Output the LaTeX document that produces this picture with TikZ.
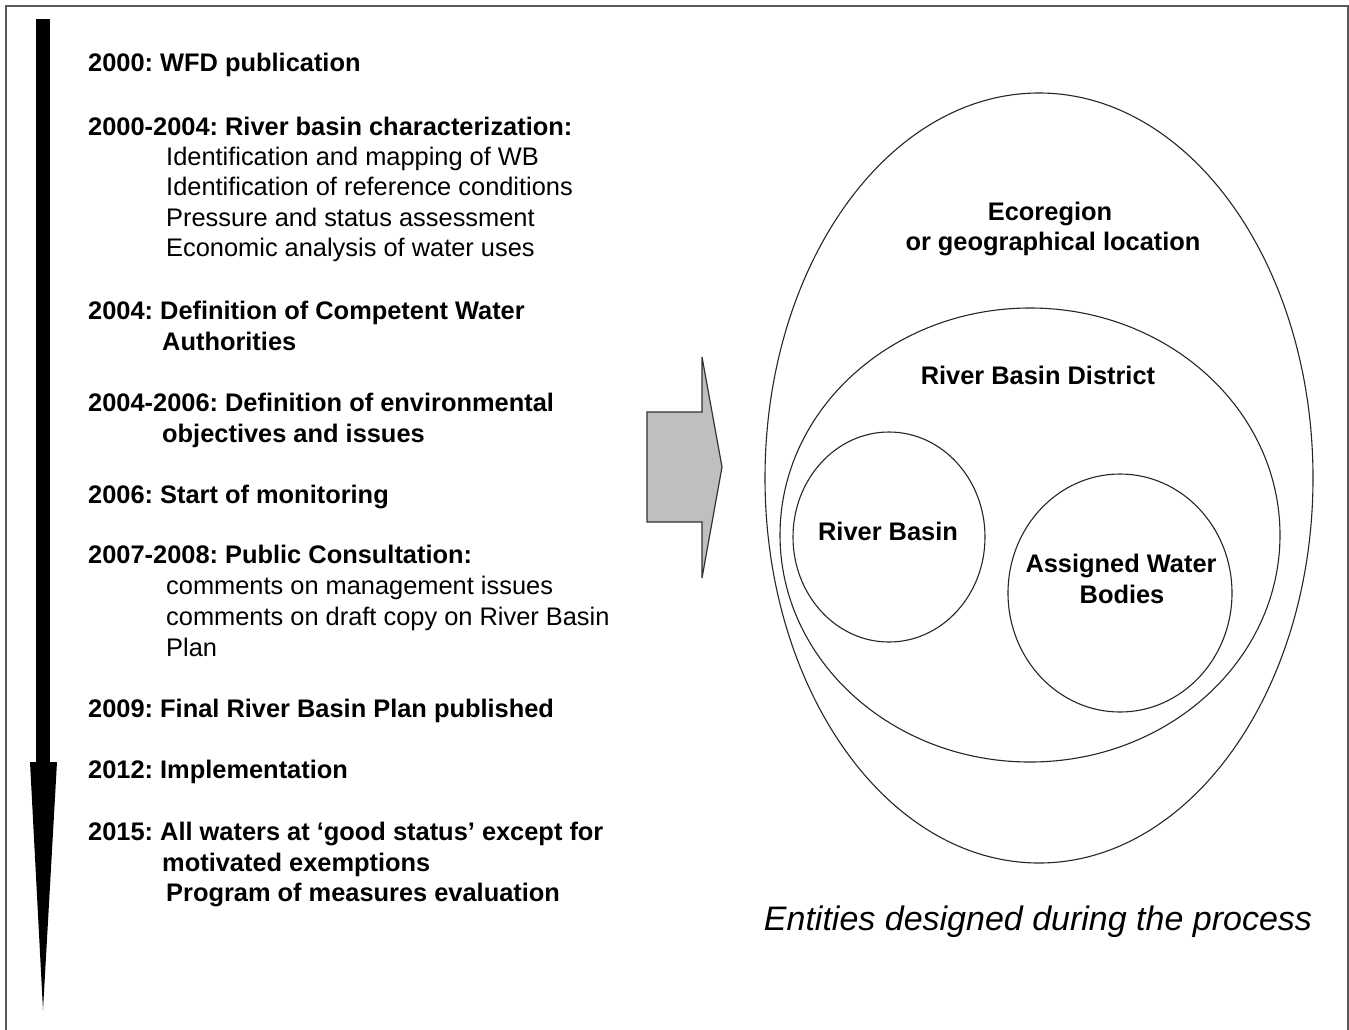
\documentclass[tikz,border=0pt]{standalone}
\usepackage{fontspec}
\setmainfont{Liberation Sans}
\begin{document}
\frenchspacing
\begin{tikzpicture}[x=1pt,y=-1pt,
  bt/.style={anchor=base west,inner sep=0pt,font=\fontsize{25.4}{30}\selectfont\bfseries},
  rt/.style={anchor=base west,inner sep=0pt,font=\fontsize{25.4}{30}\selectfont},
  ct/.style={anchor=base,inner sep=0pt,font=\fontsize{25.4}{30}\selectfont\bfseries},
  ring/.style={draw=black!85,line width=1.1pt}]
\useasboundingbox (0,0) rectangle (1349,1029);
\fill[white] (0,0) rectangle (1349,1029);
\draw[line width=1.2pt,gray!70!black] (6,1030) -- (6,6) -- (1348,6) -- (1348,1030);
% timeline arrow
\fill[black] (36,19) rectangle (50,763);
\fill[black] (30,762) -- (57,762) -- (43,1010) -- cycle;
% gray arrow
\draw[fill=gray!50,draw=gray!40!black,line width=1.2pt] (647,412) -- (702,412) -- (702,357) -- (722,467) -- (702,578) -- (702,522) -- (647,522) -- cycle;
% texts
\node[bt] (t1) at (88,71) {2000: WFD publication};
\node[bt] (t2) at (88,135) {2000-2004: River basin characterization:};
\node[rt] (t2a) at (166,165) {Identification and mapping of WB};
\node[rt] (t2b) at (166,195) {Identification of reference conditions};
\node[rt] (t2c) at (166,226) {Pressure and status assessment};
\node[rt] (t2d) at (166,256) {Economic analysis of water uses};
\node[bt] (t3) at (88,319) {2004: Definition of Competent Water};
\node[bt] (t3a) at (162,350) {Authorities};
\node[bt] (t4) at (88,411) {2004-2006: Definition of environmental};
\node[bt] (t4a) at (162,442) {objectives and issues};
\node[bt] (t5) at (88,503) {2006: Start of monitoring};
\node[bt] (t6) at (88,563) {2007-2008: Public Consultation:};
\node[rt] (t6a) at (166,594) {comments on management issues};
\node[rt] (t6b) at (166,625) {comments on draft copy on River Basin};
\node[rt] (t6c) at (166,656) {Plan};
\node[bt] (t7) at (88,717) {2009: Final River Basin Plan published};
\node[bt] (t8) at (88,778) {2012: Implementation};
\node[bt] (t9) at (88,840) {2015: All waters at ‘good status’ except for};
\node[bt] (t9a) at (162,871) {motivated exemptions};
\node[bt] (t9b) at (166,901) {Program of measures evaluation};
% ellipses
\draw[ring] (1039,478) ellipse [x radius=274, y radius=385];
\draw[ring] (1030,535) ellipse [x radius=250, y radius=227];
\draw[ring] (889,537) ellipse [x radius=96, y radius=105];
\draw[ring] (1120,593) ellipse [x radius=112, y radius=119];
\node[ct] (e1) at (1050,220) {Ecoregion};
\node[ct] (e2) at (1053,250) {or geographical location};
\node[ct] (e3) at (1038,384) {River Basin District};
\node[ct] (e4) at (888,540) {River Basin};
\node[ct] (e5) at (1121,572) {Assigned Water};
\node[ct] (e6) at (1122,603) {Bodies};
\node[anchor=base,inner sep=0pt,font=\fontsize{34}{40}\selectfont\itshape] (cap) at (1038,930) {Entities designed during the process};
\end{tikzpicture}
\end{document}
